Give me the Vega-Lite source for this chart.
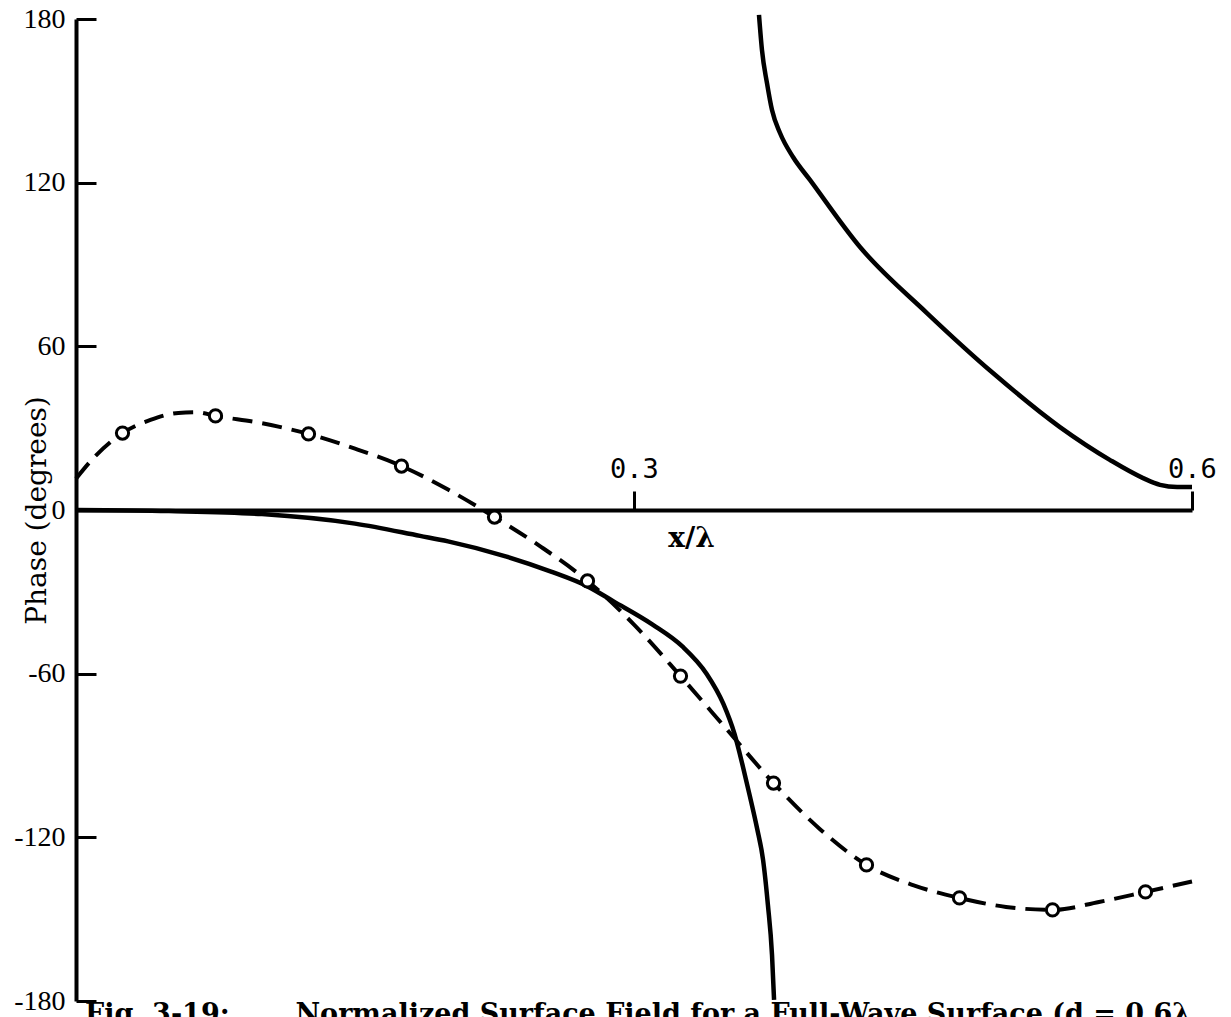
{
  "$schema": "https://vega.github.io/schema/vega-lite/v6.json",
  "width": 1116,
  "height": 982,
  "autosize": {"type": "none"},
  "padding": {"left": 76, "top": 19, "right": 39, "bottom": 16},
  "background": "white",
  "config": {
    "view": {"stroke": null},
    "axis": {"grid": false, "domainColor": "black", "tickColor": "black", "labelColor": "black", "titleColor": "black"}
  },
  "title": {
    "text": "Fig. 3-19:\u00a0\u00a0\u00a0\u00a0\u00a0\u00a0\u00a0Normalized Surface Field for a Full-Wave Surface (d = 0.6λ.",
    "orient": "bottom",
    "anchor": "start",
    "frame": "group",
    "font": "DejaVu Serif",
    "fontWeight": "bold",
    "fontSize": 27,
    "baseline": "top",
    "offset": -13,
    "dx": 9,
    "color": "black"
  },
  "datasets": {
    "dashed": [
      {"x": 0, "y": 11.5}, {"x": 0.01, "y": 19.5}, {"x": 0.025, "y": 28.2}, {"x": 0.04, "y": 33},
      {"x": 0.055, "y": 35.6}, {"x": 0.065, "y": 35.8}, {"x": 0.075, "y": 34.5}, {"x": 0.1, "y": 31.8},
      {"x": 0.125, "y": 27.9}, {"x": 0.15, "y": 22.5}, {"x": 0.175, "y": 16.1}, {"x": 0.2, "y": 7.5},
      {"x": 0.225, "y": -2.6}, {"x": 0.25, "y": -13.5}, {"x": 0.275, "y": -26}, {"x": 0.3, "y": -42},
      {"x": 0.325, "y": -60.9}, {"x": 0.35, "y": -80.5}, {"x": 0.375, "y": -100.1}, {"x": 0.4, "y": -117},
      {"x": 0.425, "y": -130.1}, {"x": 0.45, "y": -137.5}, {"x": 0.475, "y": -142.2}, {"x": 0.5, "y": -145.5},
      {"x": 0.525, "y": -146.6}, {"x": 0.55, "y": -143.7}, {"x": 0.575, "y": -140}, {"x": 0.6, "y": -136.2}
    ],
    "circles": [
      {"x": 0.025, "y": 28.2}, {"x": 0.075, "y": 34.5}, {"x": 0.125, "y": 27.9}, {"x": 0.175, "y": 16.1},
      {"x": 0.225, "y": -2.6}, {"x": 0.275, "y": -26}, {"x": 0.325, "y": -60.9}, {"x": 0.375, "y": -100.1},
      {"x": 0.425, "y": -130.1}, {"x": 0.475, "y": -142.2}, {"x": 0.525, "y": -146.6}, {"x": 0.575, "y": -140}
    ],
    "lower": [
      {"x": 0, "y": 0}, {"x": 0.05, "y": -0.4}, {"x": 0.1, "y": -1.5}, {"x": 0.15, "y": -5},
      {"x": 0.185, "y": -9.5}, {"x": 0.2, "y": -11.5}, {"x": 0.231, "y": -17}, {"x": 0.255, "y": -22.5},
      {"x": 0.275, "y": -28}, {"x": 0.289, "y": -33.5}, {"x": 0.31, "y": -42}, {"x": 0.326, "y": -50},
      {"x": 0.339, "y": -60}, {"x": 0.348, "y": -71}, {"x": 0.354, "y": -82}, {"x": 0.3586, "y": -94.2},
      {"x": 0.3624, "y": -105.2}, {"x": 0.3661, "y": -116.5}, {"x": 0.3694, "y": -128.3}, {"x": 0.372, "y": -144.8},
      {"x": 0.3742, "y": -163.1}, {"x": 0.3753, "y": -179.6}
    ],
    "upper": [
      {"x": 0.3672, "y": 181.5}, {"x": 0.3688, "y": 168.6}, {"x": 0.3715, "y": 156.5}, {"x": 0.3742, "y": 146.6},
      {"x": 0.3785, "y": 138.2}, {"x": 0.3855, "y": 129.4}, {"x": 0.3946, "y": 121}, {"x": 0.4215, "y": 96.4},
      {"x": 0.4575, "y": 72.2}, {"x": 0.493, "y": 50.2}, {"x": 0.529, "y": 30.4}, {"x": 0.556, "y": 18.3},
      {"x": 0.5737, "y": 11.7}, {"x": 0.5828, "y": 9.2}, {"x": 0.592, "y": 8.4}, {"x": 0.6, "y": 8.4}
    ]
  },
  "encoding": {
    "x": {
      "field": "x", "type": "quantitative",
      "scale": {"domain": [0, 0.6], "nice": false, "zero": false},
      "axis": {
        "orient": "top", "offset": -491, "values": [0.3, 0.6], "format": ".1f",
        "tickSize": 19, "tickWidth": 3, "domainWidth": 4,
        "labelFont": "DejaVu Sans Mono", "labelFontSize": 27, "labelPadding": 8,
        "labelFlush": false, "labelOverlap": false,
        "title": "x/λ", "titleFont": "DejaVu Serif", "titleFontWeight": "bold", "titleFontSize": 28,
        "titleX": 615, "titleY": 14, "titleBaseline": "top", "titleAlign": "center"
      }
    }
  },
  "resolve": {"axis": {"y": "independent"}},
  "layer": [
    {
      "data": {"name": "dashed"},
      "mark": {"type": "line", "interpolate": "monotone", "color": "black", "strokeWidth": 4, "strokeDash": [20, 10]},
      "encoding": {
        "y": {
          "field": "y", "type": "quantitative",
          "scale": {"domain": [-180, 180], "nice": false, "zero": false},
          "axis": {
            "orient": "left",
            "values": [-180, -120, -60, 0, 60, 120, 180],
            "labelExpr": "datum.value < 0 ? '-' + abs(datum.value) : '' + datum.value",
            "ticks": false, "domainWidth": 4,
            "labelFont": "Liberation Serif", "labelFontSize": 28, "labelPadding": 11,
            "labelFlush": false, "labelOverlap": false,
            "title": "Phase (degrees)", "titleFont": "DejaVu Serif", "titleFontSize": 28, "titleFontWeight": "normal",
            "titleX": -39, "titleBaseline": "middle", "titleAngle": -90
          }
        }
      }
    },
    {
      "data": {"name": "lower"},
      "mark": {"type": "line", "interpolate": "monotone", "color": "black", "strokeWidth": 4.5},
      "encoding": {
        "y": {
          "field": "y", "type": "quantitative",
          "scale": {"domain": [-180, 180], "nice": false, "zero": false},
          "axis": {
            "orient": "right", "offset": -1116,
            "values": [-180, -120, -60, 0, 60, 120, 180],
            "domain": false, "labels": false, "ticks": true, "tickSize": 20, "tickWidth": 3,
            "title": null
          }
        }
      }
    },
    {
      "data": {"name": "upper"},
      "mark": {"type": "line", "interpolate": "monotone", "color": "black", "strokeWidth": 4.5},
      "encoding": {"y": {"field": "y", "type": "quantitative", "axis": null}}
    },
    {
      "data": {"name": "circles"},
      "mark": {"type": "point", "shape": "circle", "filled": true, "fill": "white", "stroke": "black", "strokeWidth": 3, "size": 150, "opacity": 1},
      "encoding": {"y": {"field": "y", "type": "quantitative", "axis": null}}
    }
  ]
}
